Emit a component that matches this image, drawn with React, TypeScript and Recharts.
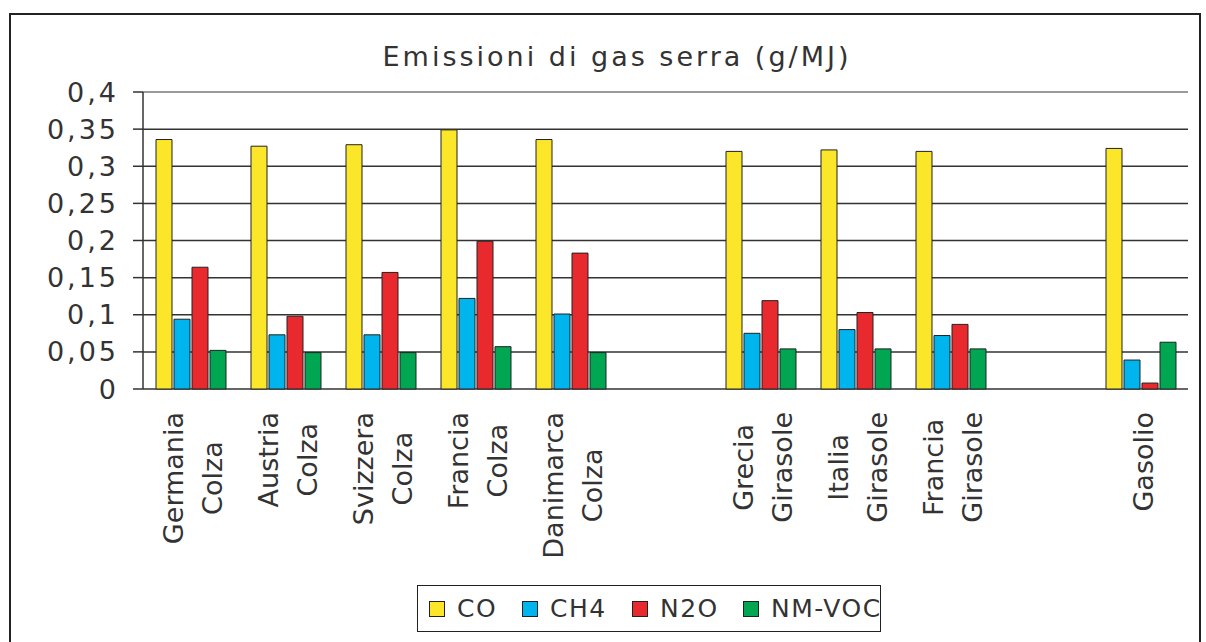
import { BarChart, Bar, XAxis, YAxis, CartesianGrid, ReferenceLine } from 'recharts'

const categories = [
  'Germania Colza', 'Austria Colza', 'Svizzera Colza', 'Francia Colza', 'Danimarca Colza', '',
  'Grecia Girasole', 'Italia Girasole', 'Francia Girasole', '', 'Gasolio',
]
const co    = [0.336, 0.327, 0.329, 0.349, 0.336, null, 0.320, 0.322, 0.320, null, 0.324]
const ch4   = [0.094, 0.073, 0.073, 0.122, 0.101, null, 0.075, 0.080, 0.072, null, 0.039]
const n2o   = [0.164, 0.098, 0.157, 0.199, 0.183, null, 0.119, 0.103, 0.087, null, 0.008]
const nmvoc = [0.052, 0.049, 0.049, 0.057, 0.049, null, 0.054, 0.054, 0.054, null, 0.063]
const yTicks = [0, 0.05, 0.1, 0.15, 0.2, 0.25, 0.3, 0.35, 0.4]
const title = 'Emissioni di gas serra (g/MJ)'

const series = [
  { key: 'co', name: 'CO', color: '#FBE62A' },
  { key: 'ch4', name: 'CH4', color: '#00B4EE' },
  { key: 'n2o', name: 'N2O', color: '#E8292E' },
  { key: 'nmvoc', name: 'NM-VOC', color: '#00A651' },
]

const data = categories.map((name, i) => ({
  name, co: co[i], ch4: ch4[i], n2o: n2o[i], nmvoc: nmvoc[i],
}))
const edgeTicks = [...categories.map((_, i) => i), categories.length]

const FONT = "'DejaVu Sans', Verdana, sans-serif"
const INK = '#333'

let ctx: CanvasRenderingContext2D | null = null
function textWidth(s: string) {
  if (!ctx) ctx = document.createElement('canvas').getContext('2d')
  if (!ctx) return s.length * 15
  ctx.font = `27px ${FONT}`
  return ctx.measureText(s).width
}

// two-line rotated labels, lines centred on each other, block hung just under the axis
function CategoryTick({ x, y, payload }: any) {
  const lines: string[] = payload.value ? String(payload.value).split(' ') : []
  if (!lines.length) return null
  const block = Math.max(...lines.map(textWidth))
  const n = lines.length
  return (
    <g>
      {lines.map((line, i) => {
        const bx = x + (i - (n - 1) / 2) * 39 + 12
        return (
          <text
            key={i}
            transform={`translate(${bx},${y}) rotate(-90)`}
            x={-(23 + block / 2)}
            y={0}
            textAnchor="middle"
            fontSize={27}
            fontFamily={FONT}
            fill={INK}
          >
            {line}
          </text>
        )
      })}
    </g>
  )
}

export default function App() {
  return (
    <div style={{ position: 'absolute', left: 0, top: 0, width: 1206, height: 642, overflow: 'hidden', background: '#fff', fontFamily: FONT }}>
      <div style={{ position: 'absolute', left: 9, top: 13, width: 1188, height: 700, border: '2px solid #222' }} />
      <div style={{ position: 'absolute', left: 14, top: 40, width: 1206, textAlign: 'center', fontSize: 27, letterSpacing: 3, color: INK, lineHeight: '34px' }}>
        {title}
      </div>
      <div style={{ position: 'absolute', left: 0, top: 0 }}>
        <BarChart
          width={1206}
          height={642}
          data={data}
          margin={{ top: 92, right: 18, bottom: 0, left: 13 }}
          barCategoryGap={13}
          barGap={2}
        >
          <CartesianGrid vertical={false} stroke="#333" strokeWidth={1.5} />
          <XAxis
            xAxisId="edges"
            type="number"
            domain={[0, categories.length]}
            ticks={edgeTicks}
            allowDataOverflow
            tick={false}
            tickSize={8}
            height={0}
            axisLine={{ stroke: '#333', strokeWidth: 1.5 }}
            tickLine={{ stroke: '#333', strokeWidth: 1.5 }}
          />
          <XAxis
            dataKey="name"
            interval={0}
            height={253}
            tickSize={0}
            tickMargin={0}
            axisLine={false}
            tickLine={false}
            tick={<CategoryTick />}
          />
          <YAxis
            domain={[0, 0.4]}
            ticks={yTicks}
            width={130}
            tickSize={10}
            tickMargin={14}
            axisLine={{ stroke: '#333', strokeWidth: 1.5 }}
            tickLine={{ stroke: '#333', strokeWidth: 1.5 }}
            tickFormatter={(v: number) => String(v).replace('.', ',')}
            tick={{ fontSize: 27, fontFamily: FONT, fill: INK, letterSpacing: 3 }}
          />
          <YAxis
            yAxisId="r"
            orientation="right"
            domain={[0, 0.4]}
            width={0}
            tick={false}
            tickLine={false}
            axisLine={{ stroke: '#9a9a9a', strokeWidth: 2 }}
          />
          <ReferenceLine y={0.4} stroke="#9a9a9a" strokeWidth={2} />
          {series.map(s => (
            <Bar
              key={s.key}
              dataKey={s.key}
              name={s.name}
              fill={s.color}
              stroke="#222"
              strokeWidth={1}
              isAnimationActive={false}
            />
          ))}
        </BarChart>
      </div>
      <div style={{ position: 'absolute', left: 417, top: 585, width: 464, height: 47, border: '1.5px solid #222', display: 'flex', alignItems: 'center', paddingLeft: 11, boxSizing: 'border-box', whiteSpace: 'nowrap' }}>
        {series.map((s, i) => (
          <div key={s.key} style={{ display: 'flex', alignItems: 'center', width: i === series.length - 1 ? 'auto' : [93, 110, 111][i], flex: 'none' }}>
            <span style={{ width: 14, height: 14, background: s.color, border: '1px solid #222', display: 'inline-block', marginRight: 12, flex: 'none' }} />
            <span style={{ fontSize: 25, letterSpacing: 1.5, color: INK, lineHeight: '30px' }}>{s.name}</span>
          </div>
        ))}
      </div>
    </div>
  )
}
